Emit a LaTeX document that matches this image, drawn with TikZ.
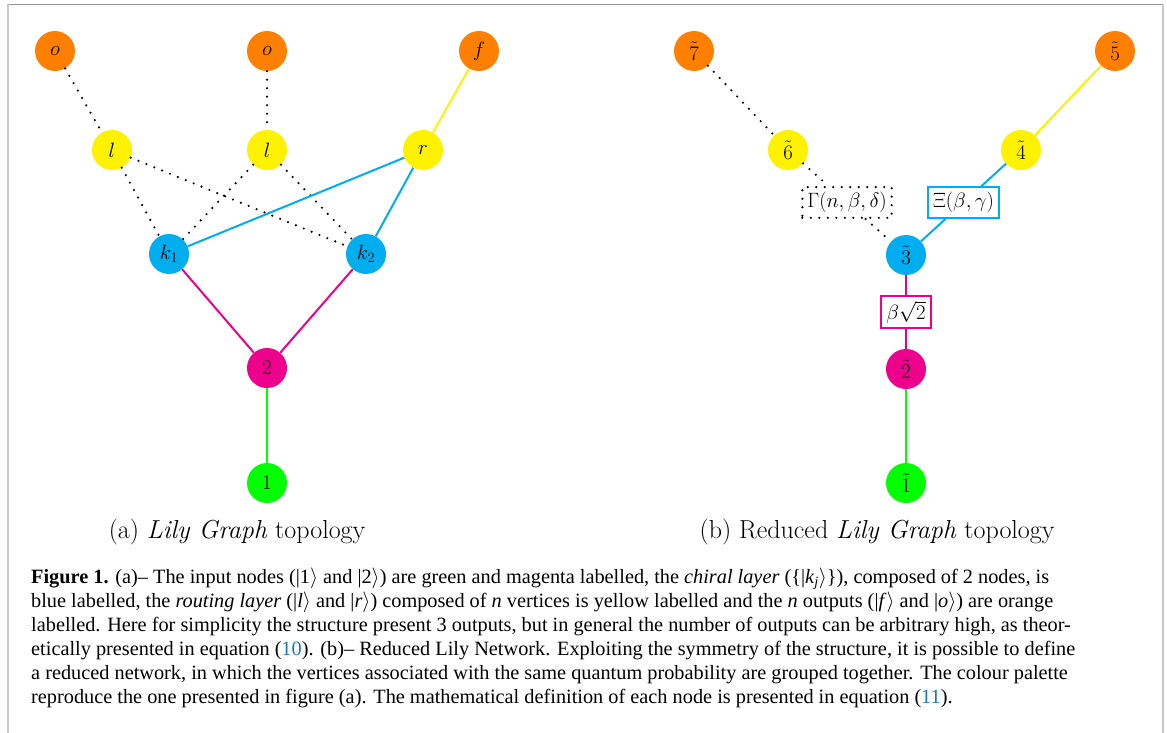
\documentclass[tikz,border=0pt]{standalone}
\usepackage[no-math]{fontspec}
\newfontfamily\capfont{Liberation Serif}
\usetikzlibrary{calc}
\definecolor{cOr}{RGB}{255,128,0}
\definecolor{cYe}{RGB}{255,242,0}
\definecolor{cCy}{RGB}{0,174,239}
\definecolor{cMa}{RGB}{236,0,140}
\definecolor{cGr}{RGB}{0,255,0}
\definecolor{cLink}{RGB}{30,120,180}
\definecolor{frameA}{RGB}{150,150,150}
\definecolor{frameB}{RGB}{200,200,200}
\newcommand{\ket}[1]{|#1$\rangle$}
\newcommand{\capl}[2]{\hbox to #1pt{\spaceskip=\fontdimen2\font plus 10pt\relax #2}}
\begin{document}
\begin{tikzpicture}[x=1pt,y=-1pt,
  vtx/.style={circle,minimum size=40pt,inner sep=0pt,font=\fontsize{19.5}{22}\selectfont},
  outv/.style={vtx,fill=cOr},
  routv/.style={vtx,fill=cYe},
  chirv/.style={vtx,fill=cCy},
  magv/.style={vtx,fill=cMa},
  inv/.style={vtx,fill=cGr},
  coloredge/.style={line width=2pt},
  dotpat/.style={line width=2.4pt,line cap=round,dash pattern=on 0pt off 8.5pt},
  dotedge/.style={dotpat,draw=black},
  wbox/.style={fill=white,inner sep=5pt,font=\fontsize{20}{22}\selectfont},
  subcap/.style={anchor=base,font=\fontsize{26}{30}\selectfont},
  capline/.style={anchor=base west,inner sep=0pt,font=\capfont\fontsize{20.3}{24}\selectfont}
]
\useasboundingbox (0,0) rectangle (1167,733);
% frame
\draw[frameA,line width=1.2pt] (8,4.5) -- (1163,4.5);
\draw[frameB,line width=2pt] (8,4.5) -- (8,733);
\draw[frameB,line width=2pt] (1163,4.5) -- (1163,733);

% ---------- panel (a)
\node[outv] (o1) at (55,51) {$o$};
\node[outv] (o2) at (267,51) {$o$};
\node[outv] (f) at (479,51) {$f$};
\node[routv] (l1) at (112,150) {$l$};
\node[routv] (l2) at (267,150) {$l$};
\node[routv] (r) at (423,150) {$r$};
\node[chirv] (k1) at (169,254) {$k_1$};
\node[chirv] (k2) at (366,254) {$k_2$};
\node[magv] (n2) at (267,368) {$2$};
\node[inv] (n1) at (267,483) {$1$};

\draw[dotedge] (o1) -- (l1);
\draw[dotedge] (o2) -- (l2);
\draw[dotedge] (l1) -- (k1);
\draw[dotedge] (l1) -- (k2);
\draw[dotedge] (l2) -- (k1);
\draw[dotedge] (l2) -- (k2);
\draw[coloredge,cYe] (f) -- (r);
\draw[coloredge,cCy] (r) -- (k1);
\draw[coloredge,cCy] (r) -- (k2);
\draw[coloredge,cMa] (k1) -- (n2);
\draw[coloredge,cMa] (k2) -- (n2);
\draw[coloredge,cGr] (n2) -- (n1);

\node[subcap] (capa) at (237,538) {(a) \textit{Lily Graph} topology};

% ---------- panel (b)
\node[outv] (t7) at (694,51) {$\tilde{7}$};
\node[outv] (t5) at (1115,51) {$\tilde{5}$};
\node[routv] (t6) at (788,150) {$\tilde{6}$};
\node[routv] (t4) at (1021,150) {$\tilde{4}$};
\node[chirv] (t3) at (906,255) {$\tilde{3}$};
\node[magv] (t2) at (906,369) {$\tilde{2}$};
\node[inv] (t1) at (906,483) {$\tilde{1}$};

\node[wbox,dotedge] (gam) at ($(t6)!0.5!(t3)$) {$\Gamma(n,\beta,\delta)$};
\node[wbox,draw=cCy,line width=2pt] (xi) at ($(t4)!0.5!(t3)$) {$\Xi(\beta,\gamma)$};
\node[wbox,draw=cMa,line width=2pt] (bs) at ($(t3)!0.5!(t2)$) {$\beta\sqrt{2}$};

\draw[dotedge] (t7) -- (t6);
\draw[dotedge] (t6) -- (gam);
\draw[dotedge] (gam) -- (t3);
\draw[coloredge,cYe] (t5) -- (t4);
\draw[coloredge,cCy] (t4) -- (xi);
\draw[coloredge,cCy] (xi) -- (t3);
\draw[coloredge,cMa] (t3) -- (bs);
\draw[coloredge,cMa] (bs) -- (t2);
\draw[coloredge,cGr] (t2) -- (t1);

\node[subcap] (capb) at (877,538) {(b) Reduced \textit{Lily Graph} topology};

% ---------- caption
\node[capline] (c1) at (31,583) {\capl{1012}{\textbf{Figure 1.} (a)– The input nodes (\ket{1} and \ket{2}) are green and magenta labelled, the \textit{chiral layer} (\{|\textit{k}\textsubscript{\textit{j}}$\rangle$\}), composed of 2 nodes, is}};
\node[capline] (c2) at (31,607) {\capl{1014}{blue labelled, the \textit{routing layer} (\ket{\textit{l}} and \ket{\textit{r}}) composed of \textit{n} vertices is yellow labelled and the \textit{n} outputs (\ket{\textit{f}} and \ket{\textit{o}}) are orange}};
\node[capline] (c3) at (31,631) {\capl{1029}{labelled. Here for simplicity the structure present 3 outputs, but in general the number of outputs can be arbitrary high, as theor-}};
\node[capline] (c4) at (31,655) {\capl{1031}{etically presented in equation ({\color{cLink}10}). (b)– Reduced Lily Network. Exploiting the symmetry of the structure, it is possible to define}};
\node[capline] (c5) at (31,679) {\capl{1032}{a reduced network, in which the vertices associated with the same quantum probability are grouped together. The colour palette}};
\node[capline] (c6) at (31,703) {reproduce the one presented in figure (a). The mathematical definition of each node is presented in equation ({\color{cLink}11}).};
\end{tikzpicture}
\end{document}
